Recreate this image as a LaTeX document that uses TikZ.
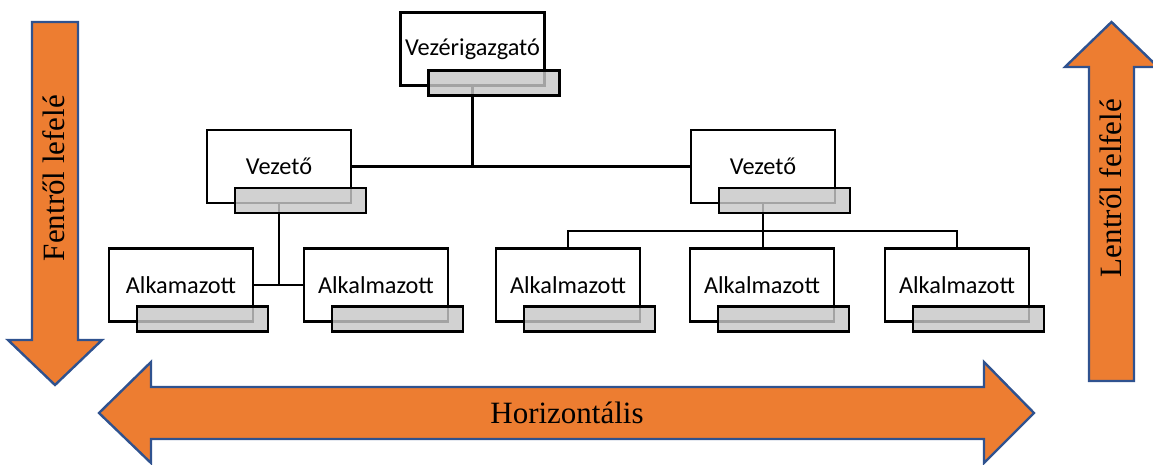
\documentclass[tikz,border=0pt]{standalone}
\usepackage{fontspec}
\setmainfont{Liberation Serif}
\newfontfamily\boxfont{Carlito}
\definecolor{arrowfill}{HTML}{ED7D31}
\definecolor{arrowline}{HTML}{2F528F}
\definecolor{barfill}{HTML}{C8C8C8}
\begin{document}
\begin{tikzpicture}[x=1pt,y=-1pt,
  orgbox/.style={draw=black, line width=2.8pt, fill=white,
    minimum width=144pt, minimum height=73pt, inner sep=0pt,
    font=\boxfont\fontsize{24.3}{29}\selectfont},
  graybar/.style={draw=black, line width=2.8pt, fill=barfill, fill opacity=0.82,
    minimum width=131pt, minimum height=25pt, inner sep=0pt},
  link/.style={draw=black, line width=2.8pt},
  bigarrow/.style={fill=arrowfill, draw=arrowline, line width=2.4pt, line join=miter},
  arrowtext/.style={font=\fontsize{31}{36}\selectfont, inner sep=0pt}]
\useasboundingbox (0,0) rectangle (1153,465);

% organisation chart boxes
\node[orgbox] (ceo) at (472.5,49) {Vezérigazgató};
\node[orgbox] (v1) at (279,166.5) {Vezető};
\node[orgbox] (v2) at (763,166.5) {Vezető};
\node[orgbox] (a1) at (181,285) {Alkamazott};
\node[orgbox] (a2) at (376,285) {Alkalmazott};
\node[orgbox] (a3) at (568,285) {Alkalmazott};
\node[orgbox] (a4) at (762,285) {Alkalmazott};
\node[orgbox] (a5) at (957,285) {Alkalmazott};

% connectors
\coordinate (bus) at (762,231);
\draw[link] (ceo.south) -- (ceo.south |- v1.east);
\draw[link] (v1.east) -- (v2.west);
\draw[link] (v1.south) -- (v1.south |- a1.east);
\draw[link] (a1.east) -- (a2.west);
\draw[link] (v2.south) -- (v2.south |- a4.north);
\draw[link] (a3.north) -- (a3.north |- bus) -- (a5.north |- bus) -- (a5.north);

% translucent grey bars over the lower edge of each box
\foreach \b in {ceo,v1,v2,a1,a2,a3,a4,a5}{
  \node[graybar] (\b bar) at ([shift={(21.5,34)}]\b.center) {};
}

% direction arrows
\draw[bigarrow] (32,22) -- (78,22) -- (78,340) -- (102,340) -- (55,385)
  -- (8,340) -- (32,340) -- cycle;
\node[arrowtext, rotate=90] (down) at (54,178) {Fentről lefelé};

\draw[bigarrow] (1089,381) -- (1134,381) -- (1134,67) -- (1158,67) -- (1111.5,22)
  -- (1065,67) -- (1089,67) -- cycle;
\node[arrowtext, rotate=90] (up) at (1111,188) {Lentről felfelé};

\draw[bigarrow] (99,413) -- (151,362) -- (151,387) -- (984,387) -- (984,362)
  -- (1034,413) -- (984,463) -- (984,439) -- (151,439) -- (151,463) -- cycle;
\node[arrowtext] (horiz) at (567,413) {Horizontális};
\end{tikzpicture}
\end{document}
